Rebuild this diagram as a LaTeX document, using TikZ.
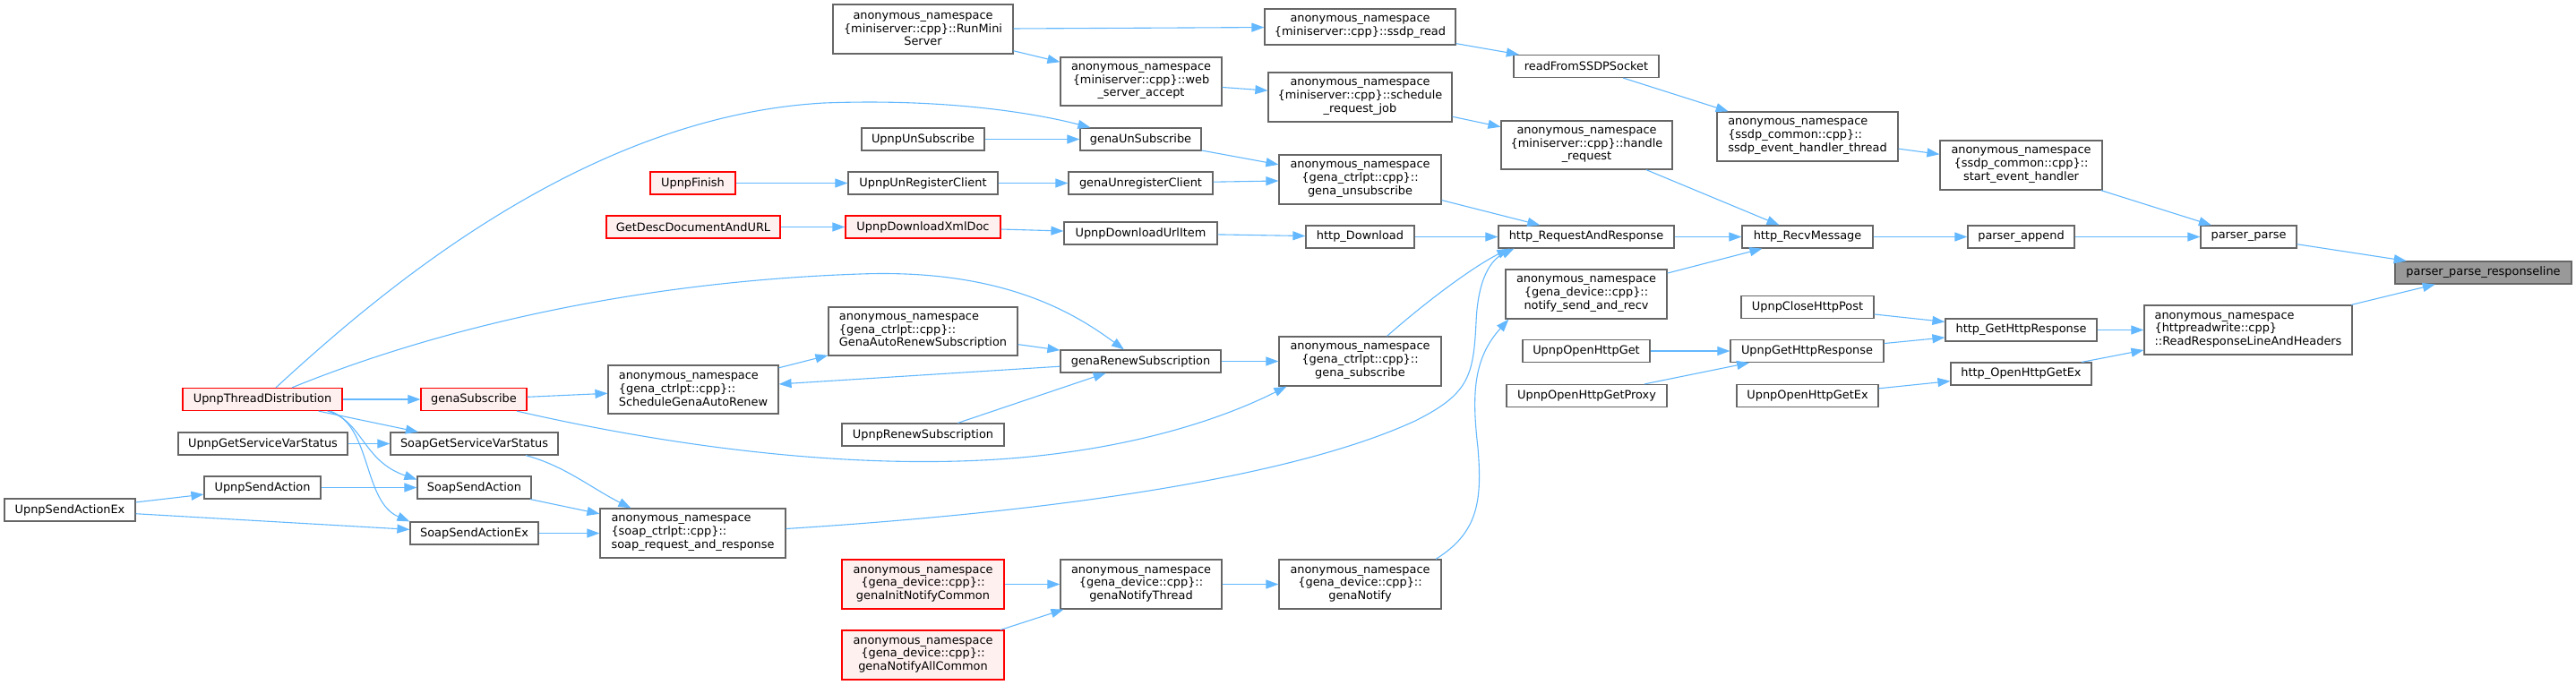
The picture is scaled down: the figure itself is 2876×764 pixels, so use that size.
\documentclass[tikz,border=0pt]{standalone}
\usepackage{fontspec}
\setmainfont{DejaVu Sans}
\usepackage{tikz}
\usepackage{xcolor}
\usetikzlibrary{arrows.meta,calc,positioning}
\definecolor{EdgeBlue}{HTML}{63B8FF}
\definecolor{BoxGray}{HTML}{666666}
\definecolor{RootGray}{HTML}{999999}
\definecolor{LinkRed}{HTML}{FF0000}
\definecolor{LinkPink}{HTML}{FFF0F0}

\begin{document}
\begin{tikzpicture}[x=1pt, y=-1pt,
    fn/.style={draw=BoxGray, fill=white, line width=1.2pt, inner sep=2pt,
        font=\fontsize{12.9pt}{14.7pt}\selectfont, align=center, minimum height=25pt},
    fnthree/.style={fn, minimum height=55pt},
    fnred/.style={fn, draw=LinkRed, fill=LinkPink},
    fnredthree/.style={fnred, minimum height=55pt},
    fnroot/.style={fn, fill=RootGray},
    calls/.style={draw=EdgeBlue, line width=1.1pt, -{Triangle[length=14pt, width=10pt]}}]
    \useasboundingbox (0,0) rectangle (2876,764);

    % Root function
    \node[fnroot, minimum width=197pt] (root) at (2772.5,304.5) {parser\_parse\_responseline};

    % Direct callers
    \node[fn, minimum width=107pt] (pparse) at (2510.5,264.5) {parser\_parse};
    \node[fnthree, minimum width=232pt, align=left] (rrlah) at (2510,368.5) {anonymous\_namespace\\\{httpreadwrite::cpp\}\\::ReadResponseLineAndHeaders};

    % Third column
    \node[fn, minimum width=119pt] (pappend) at (2256.5,264.5) {parser\_append};
    \node[fnthree, minimum width=181pt] (startev) at (2256.5,184.5) {anonymous\_namespace\\\{ssdp\_common::cpp\}::\\start\_event\_handler};
    \node[fn, minimum width=169pt] (getresp) at (2256.5,368.5) {http\_GetHttpResponse};
    \node[fn, minimum width=157pt] (opengetex) at (2256.5,417.5) {http\_OpenHttpGetEx};

    % Fourth column
    \node[fnthree, minimum width=202pt, align=left] (ssdpthread) at (2018,152.5) {anonymous\_namespace\\\{ssdp\_common::cpp\}::\\ssdp\_event\_handler\_thread};
    \node[fn, minimum width=146pt] (recvmsg) at (2018,264.5) {http\_RecvMessage};
    \node[fn, minimum width=148pt] (closepost) at (2018,343) {UpnpCloseHttpPost};
    \node[fn, minimum width=171pt] (upnpgetresp) at (2017.5,392) {UpnpGetHttpResponse};
    \node[fn, minimum width=158pt] (upnpopenex) at (2018,442) {UpnpOpenHttpGetEx};

    % Fifth column
    \node[fn, minimum width=162pt] (readssdp) at (1771,74) {readFromSSDPSocket};
    \node[fnthree, minimum width=191pt, minimum height=54pt] (handlereq) at (1771.5,162) {anonymous\_namespace\\\{miniserver::cpp\}::handle\\\_request};
    \node[fn, minimum width=196pt] (reqresp) at (1771,264.5) {http\_RequestAndResponse};
    \node[fnthree, minimum width=180pt] (notifysr) at (1771,328.5) {anonymous\_namespace\\\{gena\_device::cpp\}::\\notify\_send\_and\_recv};
    \node[fn, minimum width=142pt] (opget) at (1771,392) {UpnpOpenHttpGet};
    \node[fn, minimum width=179pt] (opgetproxy) at (1771.5,442) {UpnpOpenHttpGetProxy};

    % Sixth column
    \node[fn, minimum width=213pt, minimum height=40pt] (ssdpread) at (1518.5,30) {anonymous\_namespace\\\{miniserver::cpp\}::ssdp\_read};
    \node[fnthree, minimum width=205pt] (schedjob) at (1518.5,108.5) {anonymous\_namespace\\\{miniserver::cpp\}::schedule\\\_request\_job};
    \node[fnthree, minimum width=181pt] (genaunsub) at (1518.5,200.5) {anonymous\_namespace\\\{gena\_ctrlpt::cpp\}::\\gena\_unsubscribe};
    \node[fn, minimum width=121pt] (httpdl) at (1518.5,264.5) {http\_Download};
    \node[fnthree, minimum width=181pt] (genasub) at (1518.5,403.5) {anonymous\_namespace\\\{gena\_ctrlpt::cpp\}::\\gena\_subscribe};
    \node[fnthree, minimum width=181pt] (genanotify) at (1518.5,652.5) {anonymous\_namespace\\\{gena\_device::cpp\}::\\genaNotify};

    % Seventh column
    \node[fnthree, minimum width=180pt, minimum height=54pt] (websrv) at (1274,91) {anonymous\_namespace\\\{miniserver::cpp\}::web\\\_server\_accept};
    \node[fn, minimum width=135pt] (gunsub) at (1273.5,155.5) {genaUnSubscribe};
    \node[fn, minimum width=161pt] (gunreg) at (1273.5,204.5) {genaUnregisterClient};
    \node[fn, minimum width=171pt] (dlurl) at (1273.5,260.5) {UpnpDownloadUrlItem};
    \node[fn, minimum width=179pt] (grenew) at (1273.5,403.5) {genaRenewSubscription};
    \node[fnthree, minimum width=180pt] (notifythr) at (1274,652.5) {anonymous\_namespace\\\{gena\_device::cpp\}::\\genaNotifyThread};

    % Eighth column
    \node[fnthree, minimum width=201pt] (runmini) at (1030.5,32.5) {anonymous\_namespace\\\{miniserver::cpp\}::RunMini\\Server};
    \node[fn, minimum width=137pt] (upnpunsub) at (1030.5,155.5) {UpnpUnSubscribe};
    \node[fn, minimum width=167pt] (upnpunreg) at (1030.5,204.5) {UpnpUnRegisterClient};
    \node[fnred, minimum width=173pt] (dlxml) at (1030.5,253.5) {UpnpDownloadXmlDoc};
    \node[fnthree, minimum width=211pt, minimum height=54pt, align=left] (autorenew) at (1030.5,370) {anonymous\_namespace\\\{gena\_ctrlpt::cpp\}::\\GenaAutoRenewSubscription};
    \node[fn, minimum width=181pt] (upnprenew) at (1030.5,485.5) {UpnpRenewSubscription};
    \node[fnredthree, minimum width=181pt] (initnotify) at (1030.5,652.5) {anonymous\_namespace\\\{gena\_device::cpp\}::\\genaInitNotifyCommon};
    \node[fnredthree, minimum width=181pt] (allnotify) at (1030.5,731.5) {anonymous\_namespace\\\{gena\_device::cpp\}::\\genaNotifyAllCommon};

    % Ninth column
    \node[fnred, minimum width=95pt] (finish) at (773.5,204.5) {UpnpFinish};
    \node[fnred, minimum width=194pt] (getdesc) at (774,253.5) {GetDescDocumentAndURL};
    \node[fnthree, minimum width=190pt, minimum height=54pt, align=left] (schedrenew) at (774,435) {anonymous\_namespace\\\{gena\_ctrlpt::cpp\}::\\ScheduleGenaAutoRenew};
    \node[fnthree, minimum width=207pt, align=left] (soaprr) at (773.5,595.5) {anonymous\_namespace\\\{soap\_ctrlpt::cpp\}::\\soap\_request\_and\_response};

    % Tenth column
    \node[fnred, minimum width=118pt] (gsubscribe) at (529,446) {genaSubscribe};
    \node[fn, minimum width=187pt] (soapgetvar) at (529.5,495.5) {SoapGetServiceVarStatus};
    \node[fn, minimum width=127pt] (soapsend) at (529.5,544.5) {SoapSendAction};
    \node[fn, minimum width=143pt] (soapsendex) at (529.5,595.5) {SoapSendActionEx};

    % Outer callers
    \node[fnred, minimum width=178pt] (threaddist) at (293,446) {UpnpThreadDistribution};
    \node[fn, minimum width=189pt] (upnpgetvar) at (293.5,495.5) {UpnpGetServiceVarStatus};
    \node[fn, minimum width=130pt] (upnpsend) at (293,544.5) {UpnpSendAction};
    \node[fn, minimum width=146pt] (upnpsendex) at (78,569.5) {UpnpSendActionEx};

    % Calls into the root
    \draw[calls] (pparse) -- (root);
    \draw[calls] (rrlah) -- (root);
    \draw[calls] (pappend) -- (pparse);
    \draw[calls] (startev) -- (pparse);
    \draw[calls] (getresp.east) -- (rrlah.west |- getresp.east);
    \draw[calls] (opengetex) -- (rrlah);

    % Middle of the graph
    \draw[calls] (recvmsg) -- (pappend);
    \draw[calls] (ssdpthread) -- (startev);
    \draw[calls] (closepost) -- (getresp);
    \draw[calls] (upnpgetresp) -- (getresp);
    \draw[calls] (upnpopenex) -- (opengetex);
    \draw[calls] (readssdp) -- (ssdpthread);
    \draw[calls] (handlereq) -- (recvmsg);
    \draw[calls] (reqresp) -- (recvmsg);
    \draw[calls] (notifysr) -- (recvmsg);
    \draw[calls] (opget) -- (upnpgetresp);
    \draw[calls] (opgetproxy) -- (upnpgetresp);
    \draw[calls] (ssdpread) -- (readssdp);
    \draw[calls] (schedjob) -- (handlereq);
    \draw[calls] (genaunsub) -- (reqresp);
    \draw[calls] (httpdl) -- (reqresp);
    \draw[calls] ([xshift=30pt]genasub.north) .. controls (1600,330) and (1650,295) .. ([xshift=13pt]reqresp.south west);
    \draw[calls] ([xshift=84.5pt]genanotify.north) .. controls (1650,595) and (1655,560) .. (1650,500)
        .. controls (1643,440) and (1645,400) .. ([xshift=4pt]notifysr.south west);
    \draw[calls] (websrv) -- (schedjob);
    \draw[calls] (gunsub) -- (genaunsub);
    \draw[calls] (gunreg) -- (genaunsub);
    \draw[calls] (dlurl) -- (httpdl);
    \draw[calls] (grenew) -- (genasub);
    \draw[calls] (notifythr) -- (genanotify);
    \draw[calls] (runmini) -- (ssdpread);
    \draw[calls] (runmini) -- (websrv);
    \draw[calls] (upnpunsub) -- (gunsub);
    \draw[calls] (upnpunreg) -- (gunreg);
    \draw[calls] (dlxml) -- (dlurl);
    \draw[calls] (autorenew) -- (grenew);
    \draw[calls] (upnprenew) -- (grenew);
    \draw[calls] (initnotify) -- (notifythr);
    \draw[calls] (allnotify) -- (notifythr);

    % Left part of the graph
    \draw[calls] (finish) -- (upnpunreg);
    \draw[calls] (getdesc) -- (dlxml);
    \draw[calls] (schedrenew) -- (autorenew);
    \draw[calls] (grenew) -- (schedrenew);
    \draw[calls] ([yshift=5pt]soaprr.east) .. controls (1200,570) and (1450,530) .. (1580,470)
        .. controls (1640,440) and (1645,420) .. (1648,360)
        .. controls (1650,310) and (1665,290) .. ([xshift=18pt]reqresp.south west);
    \draw[calls] (gsubscribe) -- (schedrenew);
    \draw[calls] ([xshift=48pt]gsubscribe.south) .. controls (800,510) and (1000,525) .. (1150,510)
        .. controls (1300,495) and (1390,455) .. ([xshift=9pt]genasub.south west);
    \draw[calls] ([xshift=57.5pt]soapgetvar.south) .. controls (630,520) and (660,545) .. ([xshift=35pt]soaprr.north west);
    \draw[calls] (soapsend) -- (soaprr);
    \draw[calls] (soapsendex.east) -- (soaprr.west |- soapsendex.east);
    \draw[calls] (threaddist) -- (gsubscribe);
    \draw[calls] (threaddist) -- (soapgetvar);
    \draw[calls] ([xshift=-17pt]threaddist.south east) .. controls (405,470) and (405,515) .. ([yshift=9pt]soapsend.west);
    \draw[calls] ([xshift=-14pt]threaddist.south east) .. controls (415,475) and (405,560) .. (soapsendex.north west);
    \draw[calls] ([xshift=15pt]threaddist.north) .. controls (420,330) and (650,130) .. (920,115)
        .. controls (1050,110) and (1150,125) .. ([xshift=12pt]gunsub.north west);
    \draw[calls] ([xshift=33pt]threaddist.north) .. controls (480,370) and (700,315) .. (960,306)
        .. controls (1120,300) and (1200,350) .. ([xshift=-18.5pt]grenew.north);
    \draw[calls] (upnpgetvar) -- (soapgetvar);
    \draw[calls] (upnpsend) -- (soapsend);
    \draw[calls] (upnpsendex) -- (upnpsend);
    \draw[calls] (upnpsendex) -- (soapsendex);

\end{tikzpicture}
\end{document}
